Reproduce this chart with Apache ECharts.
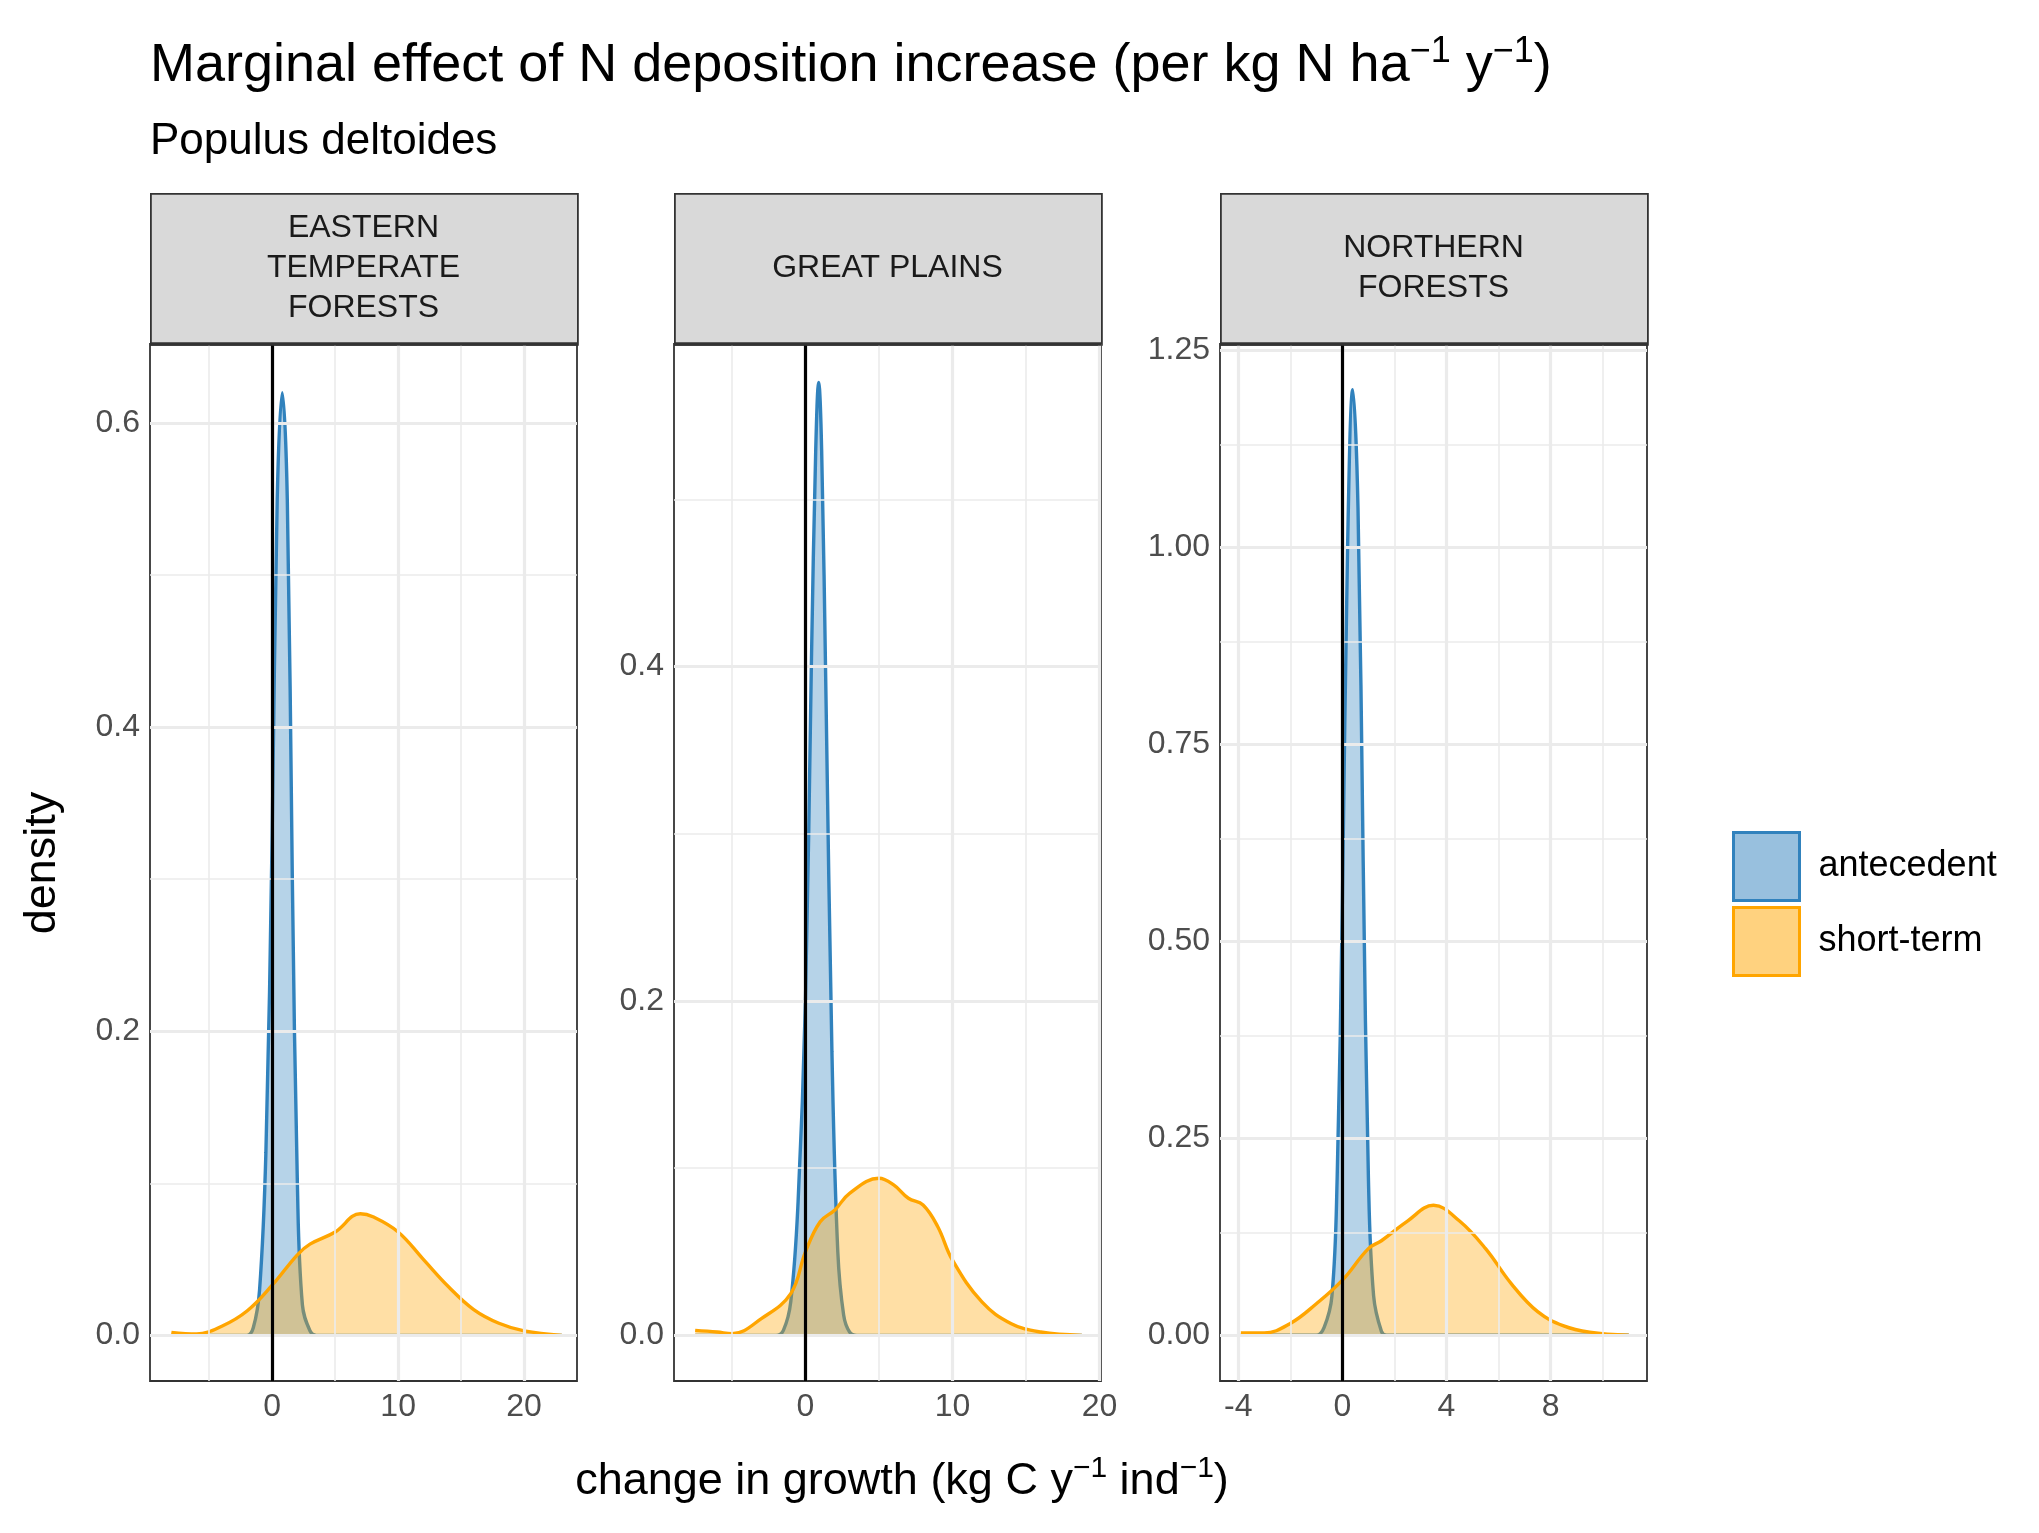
<!DOCTYPE html>
<html><head><meta charset="utf-8">
<script src="https://cdn.jsdelivr.net/npm/echarts@6/dist/echarts.min.js"></script>
<style>html,body{margin:0;padding:0;background:#fff}#c{width:2039px;height:1533px}</style>
</head><body><div id="c"></div>
<script>
const panels = ['EASTERN\nTEMPERATE\nFORESTS', 'GREAT PLAINS', 'NORTHERN\nFORESTS'];
const seriesNames = ['antecedent', 'short-term'];
// antecedent densities [x, density]
const ante1 = [[-8,0],[-2,0],[-1.5,0.005],[-1,0.03],[-0.5,0.12],[0,0.33],[0.4,0.55],[0.8,0.62],[1.2,0.55],[1.6,0.3],[2,0.1],[2.4,0.02],[3,0.003],[3.5,0],[23,0]];
const short1 = [[-8,0.002],[-6,0.001],[-4,0.006],[-2,0.016],[0,0.033],[2,0.053],[3,0.06],[5,0.068],[7,0.08],[8,0.078],[10,0.068],[12,0.05],[14,0.032],[16,0.017],[18,0.008],[20,0.003],[23,0]];
const ante2 = [[-7.5,0],[-2,0],[-1.5,0.003],[-1,0.02],[-0.5,0.08],[0,0.2],[0.4,0.4],[0.7,0.53],[0.9,0.57],[1.1,0.53],[1.4,0.38],[1.8,0.17],[2.2,0.05],[2.6,0.012],[3,0.002],[3.5,0],[18.8,0]];
const short2 = [[-7.5,0.003],[-6,0.002],[-5,0.001],[-3,0.01],[-1,0.025],[0,0.05],[1,0.068],[2,0.075],[3,0.085],[5,0.094],[6,0.09],[7,0.082],[8,0.078],[9,0.065],[10,0.045],[12,0.02],[14,0.007],[16,0.002],[18.8,0]];
const ante3 = [[-3.9,0],[-1,0],[-0.7,0.01],[-0.4,0.05],[-0.2,0.2],[0,0.55],[0.2,1.0],[0.4,1.2],[0.6,1.05],[0.8,0.6],[1,0.2],[1.2,0.05],[1.5,0.005],[1.7,0],[11,0]];
const short3 = [[-3.9,0.003],[-3,0.003],[-2,0.015],[-1,0.04],[0,0.07],[1,0.11],[1.5,0.12],[2.5,0.145],[3.5,0.165],[4.5,0.145],[5.5,0.11],[6.5,0.065],[7.5,0.03],[8.5,0.012],[9.5,0.004],[11,0]];
const xTicks = [[0,10,20],[0,10,20],[-4,0,4,8]];
const xMinor = [[-5,5,15],[-5,5,15],[-2,2,6,10]];
const yTicks = [[0,0.2,0.4,0.6],[0,0.2,0.4],[0,0.25,0.5,0.75,1,1.25]];
const yMinor = [[0.1,0.3,0.5],[0.1,0.3,0.5],[0.125,0.375,0.625,0.875,1.125]];
const yLabels = [['0.0','0.2','0.4','0.6'],['0.0','0.2','0.4'],['0.00','0.25','0.50','0.75','1.00','1.25']];
const xRanges = [[-9.7,24.2],[-8.94,20.1],[-4.7,11.7]];
const yRanges = [[-0.030,0.652],[-0.0273,0.593],[-0.058,1.258]];
const anteData = [ante1, ante2, ante3];
const shortData = [short1, short2, short3];

const lefts = [150, 674, 1220], W = 427, TOP = 344, H = 1037, STRIP = 193;
const FF = 'Liberation Sans';
const chart = echarts.init(document.getElementById('c'));
const grid = [], xAxis = [], yAxis = [], series = [], graphic = [];
for (let i = 0; i < 3; i++) {
  grid.push({left: lefts[i], top: TOP, width: W, height: H, show: true, borderColor: '#333', borderWidth: 1.8, backgroundColor: '#fff'});
  xAxis.push({type: 'value', gridIndex: i, min: xRanges[i][0], max: xRanges[i][1], splitLine: {show: false},
    axisLine: {show: false}, axisTick: {show: true, customValues: xTicks[i], length: 8, lineStyle: {color: '#333', width: 2}},
    axisLabel: {customValues: xTicks[i], color: '#4d4d4d', fontSize: 32, fontFamily: FF, margin: 10}});
  yAxis.push({type: 'value', gridIndex: i, min: yRanges[i][0], max: yRanges[i][1], splitLine: {show: false},
    axisLine: {show: false}, axisTick: {show: true, customValues: yTicks[i], length: 8, lineStyle: {color: '#333', width: 2}},
    axisLabel: {customValues: yTicks[i], color: '#4d4d4d', fontSize: 32, fontFamily: FF, margin: 10,
      formatter: v => { const k = yTicks[i].findIndex(t => Math.abs(t - v) < 1e-9); return k >= 0 ? yLabels[i][k] : ''; }}});
  const gl = (vals, w, axis) => vals.map(v => ({[axis]: v, lineStyle: {color: '#ebebeb', width: w, type: 'solid'}}));
  series.push({type: 'line', xAxisIndex: i, yAxisIndex: i, data: [], silent: true, z: 1,
    markLine: {silent: true, symbol: 'none', label: {show: false}, animation: false,
      data: [].concat(gl(xMinor[i], 1.6, 'xAxis'), gl(yMinor[i], 1.6, 'yAxis'), gl(xTicks[i], 3.2, 'xAxis'), gl(yTicks[i], 3.2, 'yAxis'))}});
  series.push({name: 'antecedent', type: 'line', xAxisIndex: i, yAxisIndex: i, data: anteData[i], smooth: 0.4, showSymbol: false, z: 3,
    lineStyle: {color: '#3182bd', width: 3.4}, itemStyle: {color: 'rgba(49,130,189,0.5)', borderColor: '#3182bd', borderWidth: 3.4},
    areaStyle: {color: 'rgba(49,130,189,0.5)', origin: 0}});
  series.push({name: 'short-term', type: 'line', xAxisIndex: i, yAxisIndex: i, data: shortData[i], smooth: 0.4, showSymbol: false, z: 4,
    lineStyle: {color: '#FFA500', width: 3.4}, itemStyle: {color: 'rgba(255,165,0,0.5)', borderColor: '#FFA500', borderWidth: 3.4},
    areaStyle: {color: 'rgba(255,165,0,0.5)', origin: 0},
    markLine: {silent: true, symbol: 'none', label: {show: false}, animation: false,
      data: [{xAxis: 0, lineStyle: {color: '#000', width: 3.2, type: 'solid'}}]}});
  graphic.push({type: 'rect', left: lefts[i], top: STRIP, shape: {width: W, height: TOP - STRIP},
    style: {fill: '#d9d9d9', stroke: '#333', lineWidth: 1.8}});
  graphic.push({type: 'line', shape: {x1: lefts[i], y1: TOP, x2: lefts[i] + W, y2: TOP}, style: {stroke: '#333', lineWidth: 3.5}, z: 100});
  graphic.push({type: 'text', x: lefts[i] + W / 2, y: (STRIP + TOP) / 2,
    style: {text: panels[i], fill: '#1a1a1a', font: '32px "Liberation Sans"', align: 'center', verticalAlign: 'middle', lineHeight: 40}});
}
graphic.push({type: 'text', left: 150, top: 34, style: {text: 'Marginal effect of N deposition increase (per kg N ha{s|−1} y{s|−1})',
  font: '54px "Liberation Sans"', fill: '#000', rich: {s: {fontSize: 36, padding: [0,0,28,0], fill: '#000'}}}});
graphic.push({type: 'text', left: 150, top: 120, style: {text: 'Populus deltoides', font: '44px "Liberation Sans"', fill: '#000'}});
graphic.push({type: 'text', x: 902, y: 1482, style: {text: 'change in growth (kg C y{s|−1} ind{s|−1})', align: 'center', verticalAlign: 'middle',
  font: '45px "Liberation Sans"', fill: '#000', rich: {s: {fontSize: 30, padding: [0,0,26,0], fill: '#000'}}}});
graphic.push({type: 'text', x: 43, y: 863, rotation: Math.PI / 2, style: {text: 'density', align: 'center', verticalAlign: 'middle',
  font: '45px "Liberation Sans"', fill: '#000'}});

chart.setOption({
  animation: false,
  grid, xAxis, yAxis, series, graphic,
  legend: {data: seriesNames, orient: 'vertical', left: 1727, top: 826, icon: 'rect', itemWidth: 66, itemHeight: 68, itemGap: 4,
    itemStyle: {borderWidth: 3},
    textStyle: {fontSize: 36, fontFamily: FF, color: '#000', padding: [0,0,0,14]}}
});
</script></body></html>
